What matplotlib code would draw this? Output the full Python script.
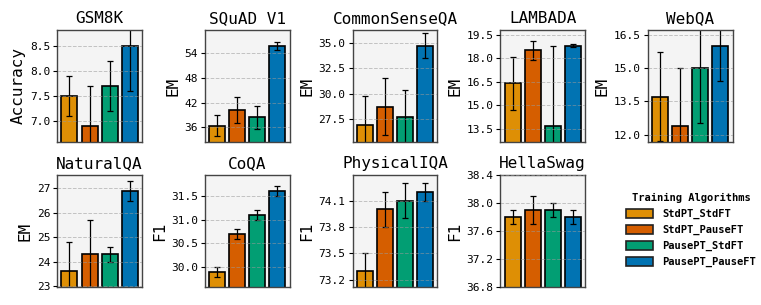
import numpy as np
import matplotlib
matplotlib.use('Agg')
import matplotlib.pyplot as plt
from matplotlib.patches import Patch

plt.rcParams['font.family'] = 'DejaVu Sans Mono'

algorithms = ['StdPT_StdFT', 'StdPT_PauseFT', 'PausePT_StdFT', 'PausePT_PauseFT']
colors = ['#DE8F05', '#D55E00', '#029E73', '#0173B2']

tasks = ['GSM8K', 'SQuAD V1', 'CommonSenseQA', 'LAMBADA', 'WebQA',
         'NaturalQA', 'CoQA', 'PhysicalIQA', 'HellaSwag']
metrics = ['Accuracy', 'EM', 'EM', 'EM', 'EM', 'EM', 'F1', 'F1', 'F1']

means = [
    [7.5, 6.9, 7.7, 8.5],
    [36.4, 40.2, 38.4, 55.8],
    [26.9, 28.75, 27.7, 34.75],
    [16.4, 18.5, 13.7, 18.8],
    [13.7, 12.4, 15.0, 16.0],
    [23.6, 24.3, 24.3, 26.9],
    [29.9, 30.7, 31.1, 31.6],
    [73.3, 74.0, 74.1, 74.2],
    [37.8, 37.9, 37.9, 37.8],
]
errors = [
    [0.4, 0.8, 0.5, 0.9],
    [2.5, 3.2, 2.8, 1.0],
    [2.9, 2.8, 2.7, 1.2],
    [1.7, 0.6, 5.1, 0.1],
    [2.0, 2.6, 2.5, 1.6],
    [1.2, 1.4, 0.3, 0.4],
    [0.1, 0.1, 0.1, 0.1],
    [0.2, 0.2, 0.2, 0.1],
    [0.1, 0.2, 0.1, 0.1],
]
ylims = [
    (6.58, 8.82), (32.4, 59.7), (25.26, 36.3), (12.67, 19.8), (11.67, 16.71),
    (22.96, 27.55), (29.58, 31.94), (73.12, 74.39), (36.8, 38.4),
]
yticks = [
    [7.0, 7.5, 8.0, 8.5], [36, 42, 48, 54], [27.5, 30.0, 32.5, 35.0],
    [13.5, 15.0, 16.5, 18.0, 19.5], [12.0, 13.5, 15.0, 16.5],
    [23, 24, 25, 26, 27], [30.0, 30.5, 31.0, 31.5], [73.2, 73.5, 73.8, 74.1],
    [36.8, 37.2, 37.6, 38.0, 38.4],
]
ytick_fmt = ['%.1f', '%d', '%.1f', '%.1f', '%.1f', '%d', '%.1f', '%.1f', '%.1f']

fig, axes = plt.subplots(2, 5, figsize=(7.61, 3.05), dpi=100)
fig.subplots_adjust(left=0.075, right=0.963, top=0.902, bottom=0.059,
                    wspace=0.74, hspace=0.295)

x = np.arange(len(algorithms))
for i, ax in enumerate(axes.flat[:9]):
    ax.set_facecolor('#f4f4f4')
    ax.bar(x, means[i], width=0.8, color=colors, edgecolor='black', linewidth=1.2,
           yerr=errors[i], capsize=2, error_kw={'elinewidth': 0.9, 'capthick': 0.9},
           zorder=1)
    ax.set_xlim(-0.62, 3.62)
    ax.set_ylim(*ylims[i])
    ax.set_yticks(yticks[i])
    ax.set_yticklabels([ytick_fmt[i] % t for t in yticks[i]], fontsize=8)
    ax.set_xticks([])
    ax.tick_params(axis='y', length=3, width=0.8, pad=2)
    ax.grid(axis='y', linestyle='--', color='#999999', linewidth=0.7, alpha=0.55, zorder=2)
    ax.set_axisbelow(False)
    for s in ax.spines.values():
        s.set_color('#444444')
        s.set_linewidth(1.0)
    ax.set_title(tasks[i], fontsize=11.5, pad=5)
    ax.set_ylabel(metrics[i], fontsize=11.5, labelpad=3)

leg_ax = axes.flat[9]
leg_ax.axis('off')
handles = [Patch(facecolor=c, edgecolor='#222222', linewidth=1.2) for c in colors]
leg = fig.legend(handles, algorithms, loc='center', bbox_to_anchor=(0.908, 0.245),
                 frameon=False, title='Training Algorithms',
                 prop={'weight': 'bold', 'size': 7.5},
                 title_fontproperties={'weight': 'bold', 'size': 7.5},
                 handlelength=2.6, handleheight=0.9, labelspacing=0.55,
                 handletextpad=0.9)

fig.savefig('out.png', dpi=100)
